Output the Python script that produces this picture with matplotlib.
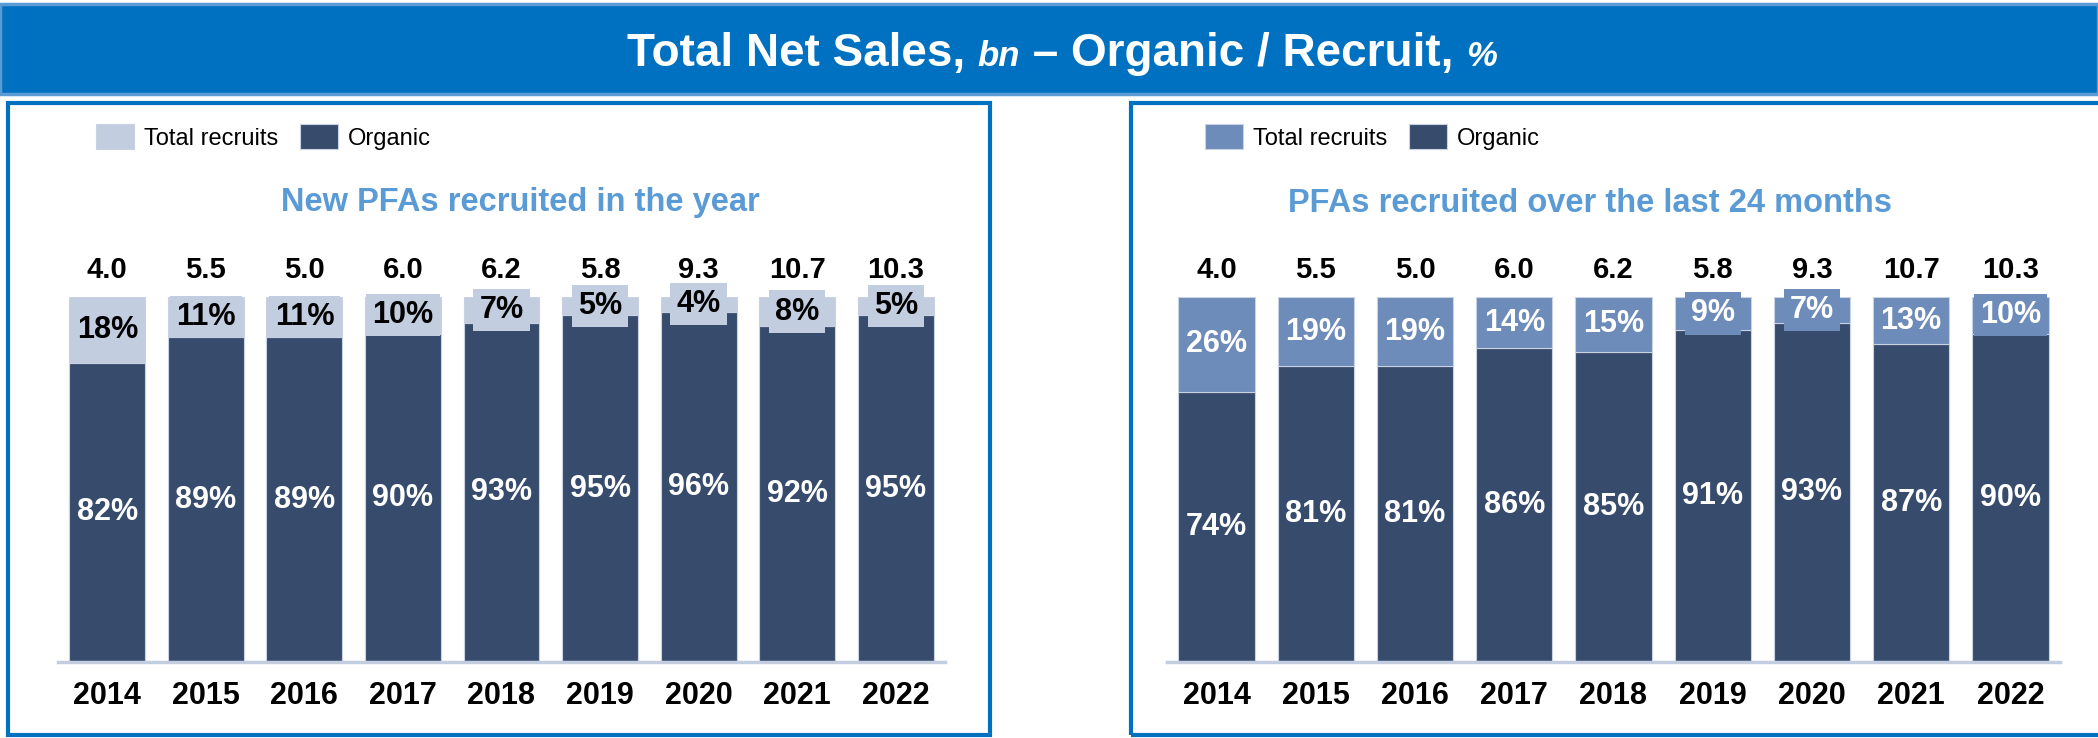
import matplotlib.pyplot as plt
from matplotlib.patches import Rectangle
import numpy as np

plt.rcParams['font.family'] = ['Liberation Sans', 'DejaVu Sans']

years = ['2014', '2015', '2016', '2017', '2018', '2019', '2020', '2021', '2022']
totals = ['4.0', '5.5', '5.0', '6.0', '6.2', '5.8', '9.3', '10.7', '10.3']

# New PFAs recruited in the year
recruit_year = [18, 11, 11, 10, 7, 5, 4, 8, 5]
organic_year = [82, 89, 89, 90, 93, 95, 96, 92, 95]

# PFAs recruited over the last 24 months
recruit_24m = [26, 19, 19, 14, 15, 9, 7, 13, 10]
organic_24m = [74, 81, 81, 86, 85, 91, 93, 87, 90]

BLUE = '#0070C0'
ORGANIC = '#374C6D'
LIGHT = '#C3CDE0'
MID = '#6E8CBA'
SUB = '#5B9BD5'

W, H = 2098, 738
fig = plt.figure(figsize=(W / 100, H / 100), dpi=100)


def fx(px):
    return px / W


def fy(py):
    return 1 - py / H


# title band
fig.patches.append(Rectangle((0, fy(94)), 1, fy(4) - fy(94), transform=fig.transFigure,
                             facecolor=BLUE, edgecolor='#5B9BD5', linewidth=2.5))

# panel frames
for x0, x1 in [(8, 990), (1131, 2110)]:
    fig.patches.append(Rectangle((fx(x0), fy(735)), fx(x1 - x0), fy(103) - fy(735),
                                 transform=fig.transFigure, facecolor='none',
                                 edgecolor=BLUE, linewidth=3))

# title with mixed styles
renderer = fig.canvas.get_renderer()
parts = [('Total Net Sales, ', 'normal', 33), ('bn', 'italic', 25),
         (' \u2013 Organic / Recruit, ', 'normal', 33), ('%', 'italic', 25)]
texts = []
for s, style, size in parts:
    t = fig.text(0, 0, s, color='white', fontweight='bold', fontstyle=style,
                 fontsize=size, va='baseline', ha='left')
    texts.append(t)
widths = [t.get_window_extent(renderer).width for t in texts]
x = 1062 - sum(widths) / 2
for t, w in zip(texts, widths):
    t.set_x(fx(x))
    t.set_y(fy(66))
    x += w


def panel(left_px, right_px, recruit, organic, rcolor, rtext, subtitle, sub_x):
    ax = fig.add_axes([fx(left_px), fy(662), fx(right_px - left_px), fy(297) - fy(662)])
    xs = np.arange(len(years))
    b1 = ax.bar(xs, organic, width=0.77, color=ORGANIC, edgecolor='#C9D2E3', linewidth=0.8,
                label='Organic')
    b2 = ax.bar(xs, recruit, bottom=organic, width=0.77, color=rcolor, edgecolor='#C9D2E3',
                linewidth=0.8, label='Total recruits')
    ax.set_xlim(-0.5, len(years) - 0.5)
    ax.set_ylim(0, 100)
    for s in ['top', 'right', 'left']:
        ax.spines[s].set_visible(False)
    ax.spines['bottom'].set_color(LIGHT)
    ax.spines['bottom'].set_linewidth(2.5)
    ax.set_yticks([])
    ax.set_xticks(xs)
    ax.set_xticklabels(years, fontsize=22, fontweight='bold')
    ax.tick_params(axis='x', length=0, pad=14)
    for i in xs:
        ax.text(i, organic[i] / 2, f'{organic[i]}%', ha='center', va='center',
                color='white', fontsize=22, fontweight='bold')
        ax.text(i, organic[i] + recruit[i] / 2, f'{recruit[i]}%', ha='center', va='center',
                color=rtext, fontsize=22, fontweight='bold',
                bbox=dict(boxstyle='square,pad=0.2', facecolor=rcolor, edgecolor='none'))
        ax.text(i, 107.5, totals[i], ha='center', va='center', color='black',
                fontsize=21, fontweight='bold', clip_on=False)
    fig.legend(handles=[b2, b1], labels=['Total recruits', 'Organic'], loc='center left',
               bbox_to_anchor=(fx(left_px + 38), fy(137)), bbox_transform=fig.transFigure,
               ncol=2, frameon=False, fontsize=17, handlelength=1.6, handleheight=1.2,
               handletextpad=0.45, columnspacing=0.9, borderpad=0, borderaxespad=0)
    fig.text(fx(sub_x), fy(203), subtitle, ha='center', va='center', color=SUB,
             fontsize=23.5, fontweight='bold')


panel(58, 945, recruit_year, organic_year, LIGHT, 'black',
      'New PFAs recruited in the year', 520)
panel(1167, 2060, recruit_24m, organic_24m, MID, 'white',
      'PFAs recruited over the last 24 months', 1590)

fig.savefig('out.png', dpi=100)
